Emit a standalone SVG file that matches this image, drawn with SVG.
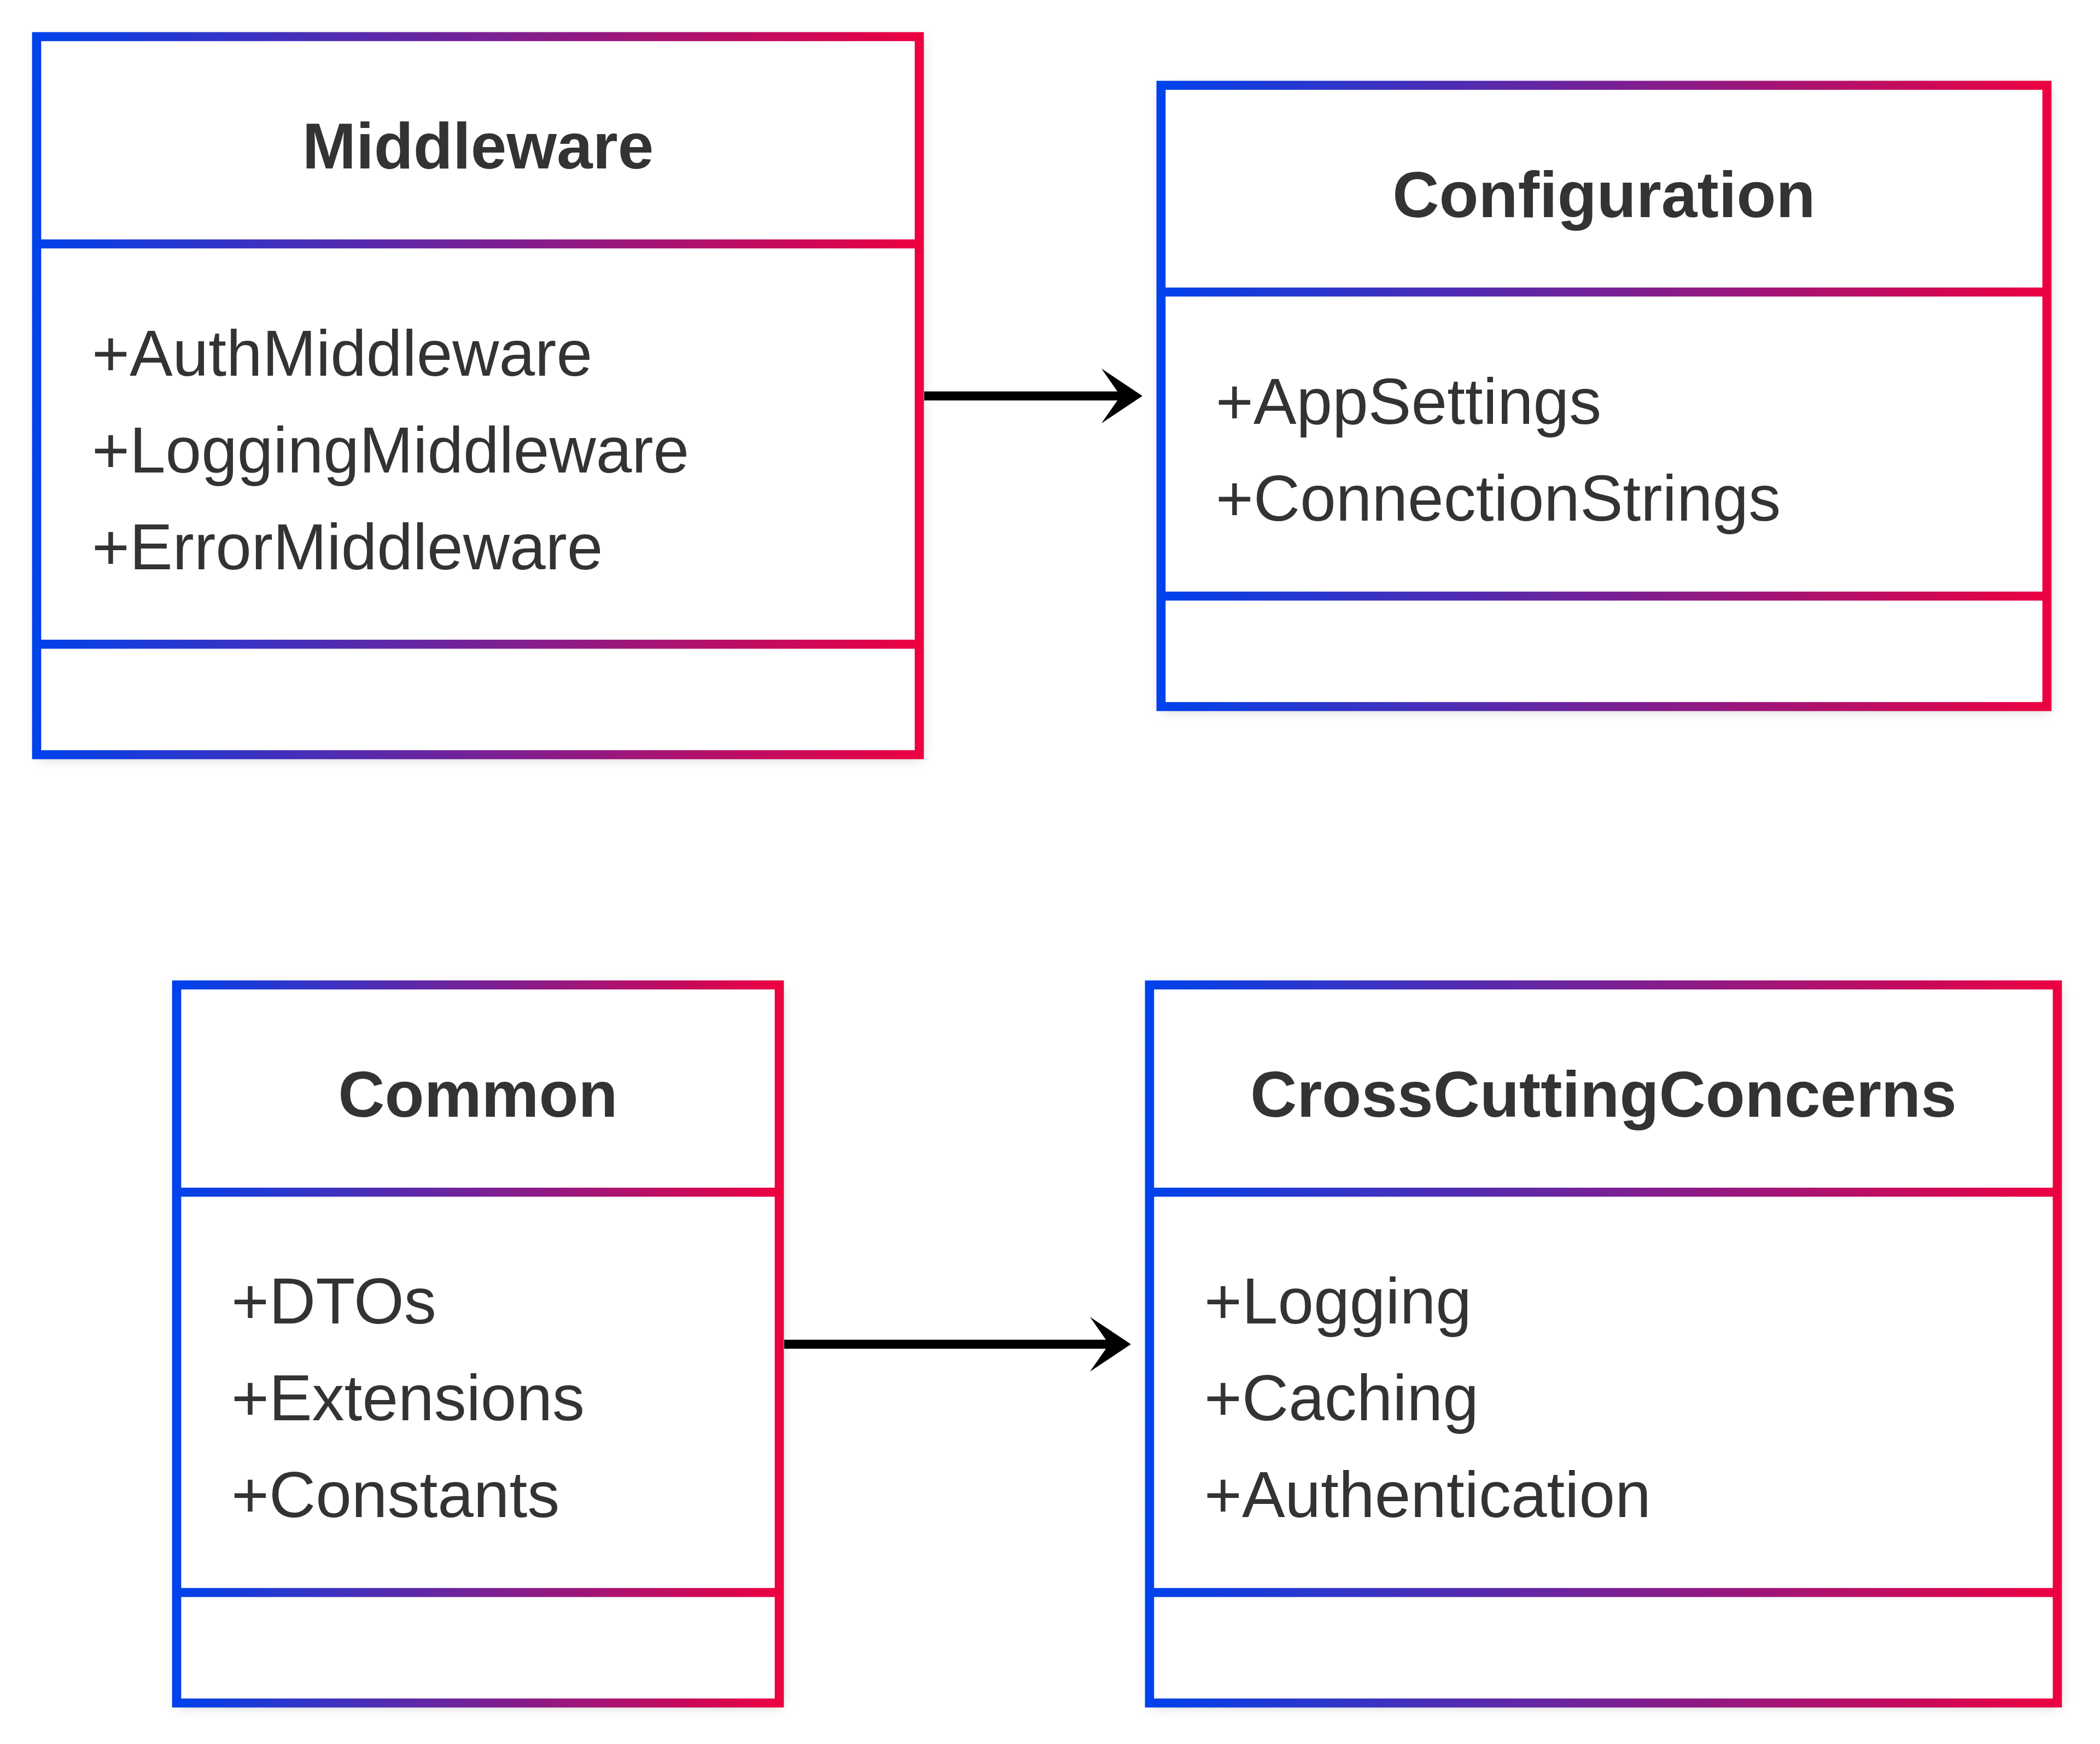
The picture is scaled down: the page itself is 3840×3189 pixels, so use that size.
<svg xmlns="http://www.w3.org/2000/svg" width="3840" height="3189" viewBox="0 0 3840 3189">
  <style>
    .bg { fill: #ffffff; }
    .box-fill { fill: #ffffff; filter: url(#shadow); }
    .box-stroke { fill: none; stroke: url(#grad); stroke-width: 16.7; }
    .title { font-family: "Liberation Sans", Arial, sans-serif; font-weight: bold; font-size: 118px; fill: #333333; text-anchor: middle; }
    .member { font-family: "Liberation Sans", Arial, sans-serif; font-size: 118px; fill: #333333; }
    .edge { fill: none; stroke: #000000; stroke-width: 16.7; marker-end: url(#arrow); }
  </style>
  <defs>
    <linearGradient id="grad" x1="0" y1="0" x2="1" y2="0" gradientUnits="objectBoundingBox">
      <stop offset="0" stop-color="#0042eb"/>
      <stop offset="1" stop-color="#ec0041"/>
    </linearGradient>
    <filter id="shadow" x="-10%" y="-10%" width="120%" height="120%">
      <feDropShadow dx="3" dy="5" stdDeviation="12" flood-color="#000000" flood-opacity="0.22"/>
    </filter>
    <marker id="arrow" viewBox="0 0 75 100" refX="45" refY="50" markerWidth="75" markerHeight="100" markerUnits="userSpaceOnUse" orient="auto">
      <path d="M0,0 L75,50 L0,100 L35,50 Z" fill="#000000"/>
    </marker>
  </defs>
  <rect class="bg" x="0" y="0" width="3840" height="3189"/>

  <g id="node-Middleware">
    <rect class="box-fill" x="67" y="67" width="1614" height="1313"/>
    <path class="box-stroke" d="M67,67 H1681 V1380 H67 Z M67,446 H1681 M67,1178 H1681"/>
    <text class="title" x="874" y="308">Middleware</text>
    <text class="member" x="168" y="687">+AuthMiddleware</text>
    <text class="member" x="168" y="864">+LoggingMiddleware</text>
    <text class="member" x="168" y="1041">+ErrorMiddleware</text>
  </g>

  <g id="node-Configuration">
    <rect class="box-fill" x="2123" y="156" width="1620" height="1136"/>
    <path class="box-stroke" d="M2123,156 H3743 V1292 H2123 Z M2123,534 H3743 M2123,1090 H3743"/>
    <text class="title" x="2933" y="397">Configuration</text>
    <text class="member" x="2223" y="775">+AppSettings</text>
    <text class="member" x="2223" y="952">+ConnectionStrings</text>
  </g>

  <g id="node-Common">
    <rect class="box-fill" x="323" y="1801" width="1102" height="1313"/>
    <path class="box-stroke" d="M323,1801 H1425 V3114 H323 Z M323,2180 H1425 M323,2912 H1425"/>
    <text class="title" x="874" y="2042">Common</text>
    <text class="member" x="423" y="2420">+DTOs</text>
    <text class="member" x="423" y="2597">+Extensions</text>
    <text class="member" x="423" y="2774">+Constants</text>
  </g>

  <g id="node-CrossCuttingConcerns">
    <rect class="box-fill" x="2102" y="1801" width="1660" height="1313"/>
    <path class="box-stroke" d="M2102,1801 H3762 V3114 H2102 Z M2102,2180 H3762 M2102,2912 H3762"/>
    <text class="title" x="2932" y="2042">CrossCuttingConcerns</text>
    <text class="member" x="2202" y="2420">+Logging</text>
    <text class="member" x="2202" y="2597">+Caching</text>
    <text class="member" x="2202" y="2774">+Authentication</text>
  </g>

  <g id="connectors">
    <path class="edge" d="M1690,724 H2059"/>
    <path class="edge" d="M1434,2458 H2038"/>
  </g>
</svg>
